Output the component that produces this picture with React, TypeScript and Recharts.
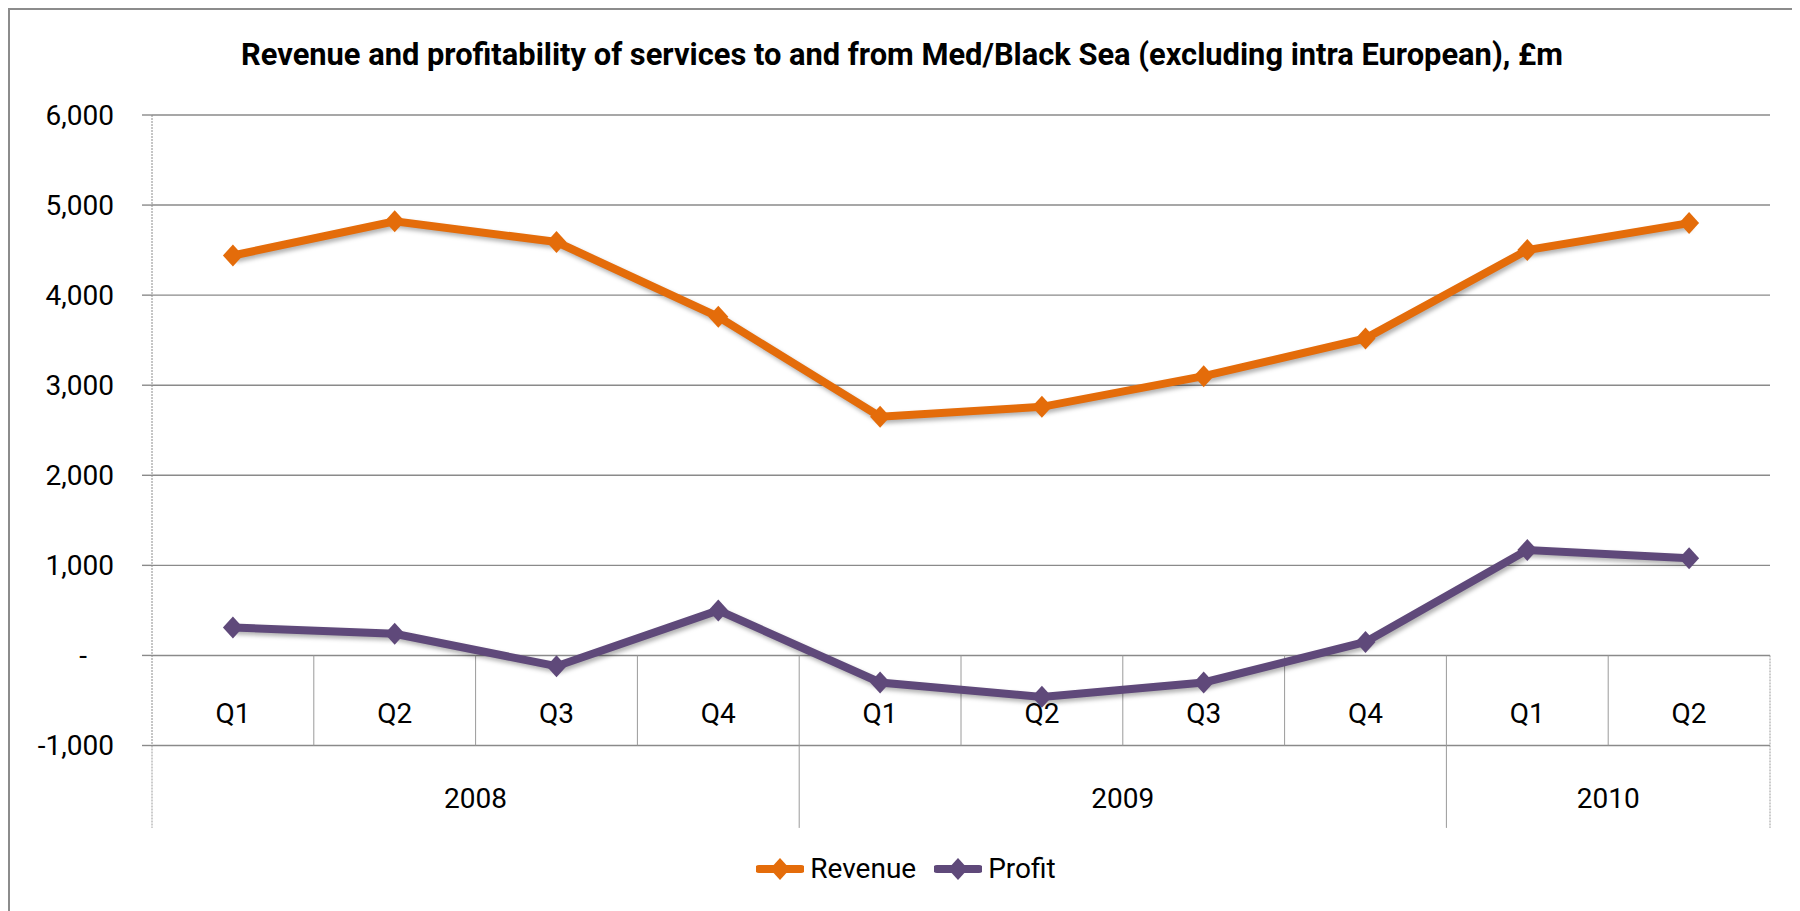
import { LineChart, Line, XAxis, YAxis, CartesianGrid, Legend, ReferenceLine } from "recharts";

const quarters = ["Q1", "Q2", "Q3", "Q4", "Q1", "Q2", "Q3", "Q4", "Q1", "Q2"];
const years = [
  { label: "2008", quarters: 4 },
  { label: "2009", quarters: 4 },
  { label: "2010", quarters: 2 },
];
const revenue = [4440, 4820, 4590, 3760, 2650, 2760, 3100, 3520, 4500, 4800];
const profit = [310, 240, -120, 500, -300, -460, -300, 150, 1170, 1080];
const yTicks = [-1000, 0, 1000, 2000, 3000, 4000, 5000, 6000];

const TITLE = "Revenue and profitability of services to and from Med/Black Sea (excluding intra European), £m";
const FONT = "Roboto, 'Open Sans', sans-serif";
const GRID = "#8a8a8a";
const ORANGE = "#E46C0A";
const PURPLE = "#5F497A";

// lower edge of the year row under the axis, in value units
const YEAR_ROW_FLOOR = -1915;

const WIDTH = 1790;
const HEIGHT = 900;

const data = quarters.map((q, i) => ({
  x: i + 0.5,
  quarter: q,
  Revenue: revenue[i],
  Profit: profit[i],
}));

const quarterTicks = data.map((d) => d.x);

// year group boundaries and label centres
const yearBounds: number[] = [];
const yearCenters: { x: number; label: string }[] = [];
let acc = 0;
years.forEach((y) => {
  yearCenters.push({ x: acc + y.quarters / 2, label: y.label });
  acc += y.quarters;
  yearBounds.push(acc);
});
const innerBounds = yearBounds.slice(0, -1);

const quarterDividers: number[] = [];
for (let i = 1; i < quarters.length; i++) {
  if (!innerBounds.includes(i)) quarterDividers.push(i);
}

const series = [
  { key: "Revenue", color: ORANGE },
  { key: "Profit", color: PURPLE },
];

function Diamond(props: any) {
  const { cx, cy, fill } = props;
  if (cx == null || cy == null) return null;
  return <path d={`M${cx},${cy - 11} L${cx + 10},${cy} L${cx},${cy + 11} L${cx - 10},${cy} Z`} fill={fill} />;
}

function YTick(props: any) {
  const { x, y, payload } = props;
  const v = payload.value as number;
  return (
    <text
      x={x}
      y={y}
      dx={v === 0 ? -27 : 0}
      dy="0.355em"
      textAnchor="end"
      fontFamily={FONT}
      fontSize={28}
      fill="#000"
    >
      {v === 0 ? "-" : v.toLocaleString("en-US")}
    </text>
  );
}

function QuarterTick(props: any) {
  const { x, y, payload } = props;
  const label = quarters[Math.floor(payload.value)];
  return (
    <text x={x} y={y - 32} dy="0.355em" textAnchor="middle" fontFamily={FONT} fontSize={28} fill="#000">
      {label}
    </text>
  );
}

function YearTick(props: any) {
  const { x, y, payload } = props;
  const found = yearCenters.find((c) => c.x === payload.value);
  return (
    <text x={x} y={y + 52} dy="0.355em" textAnchor="middle" fontFamily={FONT} fontSize={28} fill="#000">
      {found ? found.label : ""}
    </text>
  );
}

function LegendContent() {
  return (
    <div
      style={{
        display: "flex",
        justifyContent: "center",
        alignItems: "center",
        height: 40,
        gap: 18,
        paddingLeft: 34,
      }}
    >
      {series.map((s) => (
        <div key={s.key} style={{ display: "flex", alignItems: "center", gap: 6 }}>
          <svg width={48} height={24}>
            <line x1={3} y1={12} x2={45} y2={12} stroke={s.color} strokeWidth={8} strokeLinecap="round" />
            <path d="M24,1 L34,12 L24,23 L14,12 Z" fill={s.color} />
          </svg>
          <span style={{ fontFamily: FONT, fontSize: 28, color: "#000", lineHeight: "40px" }}>{s.key}</span>
        </div>
      ))}
    </div>
  );
}

export default function App() {
  return (
    <div
      style={{
        position: "relative",
        width: WIDTH,
        height: 910,
        border: "2px solid #8c8c8c",
        boxSizing: "border-box",
        background: "#fff",
      }}
    >
      <style>{`.series-shadow { filter: drop-shadow(2px 3px 2px rgba(0,0,0,0.3)); }`}</style>
      <div style={{ position: "absolute", left: -2, top: -2 }}>
        <LineChart width={WIDTH} height={HEIGHT} data={data} margin={{ top: 107, right: 28, left: 0, bottom: 19 }}>
          <CartesianGrid vertical={false} stroke={GRID} strokeWidth={1.4} xAxisId="q" />
          <XAxis
            xAxisId="q"
            dataKey="x"
            type="number"
            domain={[0, quarters.length]}
            ticks={quarterTicks}
            interval={0}
            tick={(p: any) => <QuarterTick {...p} />}
            tickLine={false}
            axisLine={false}
            tickSize={0}
            tickMargin={0}
            height={1}
          />
          <XAxis
            xAxisId="yr"
            dataKey="x"
            type="number"
            domain={[0, quarters.length]}
            ticks={yearCenters.map((c) => c.x)}
            interval={0}
            tick={(p: any) => <YearTick {...p} />}
            tickLine={false}
            axisLine={false}
            tickSize={0}
            tickMargin={0}
            height={102.5}
          />
          <YAxis
            domain={[-1000, 6000]}
            ticks={yTicks}
            interval={0}
            width={144}
            tickSize={10}
            tickMargin={28}
            tickLine={{ stroke: GRID, strokeWidth: 1.4 }}
            axisLine={{ stroke: "#8c8c8c", strokeDasharray: "2 1" }}
            tick={(p: any) => <YTick {...p} />}
          />
          {quarterDividers.map((b) => (
            <ReferenceLine
              key={`q${b}`}
              xAxisId="q"
              segment={[{ x: b, y: 0 }, { x: b, y: -1000 }]}
              stroke="#9a9a9a"
              strokeWidth={1}
              ifOverflow="visible"
            />
          ))}
          {[0, ...innerBounds, quarters.length].map((b) => (
            <ReferenceLine
              key={`y${b}`}
              xAxisId="q"
              segment={[{ x: b, y: b === 0 ? -1000 : 0 }, { x: b, y: YEAR_ROW_FLOOR }]}
              stroke="#9a9a9a"
              strokeWidth={1}
              strokeDasharray={b === 0 || b === quarters.length ? "2 1" : undefined}
              ifOverflow="visible"
            />
          ))}
          {series.map((s) => (
            <Line
              key={s.key}
              xAxisId="q"
              className="series-shadow"
              type="linear"
              dataKey={s.key}
              stroke={s.color}
              strokeWidth={8}
              dot={(p: any) => <Diamond key={`${s.key}-${p.index}`} {...p} fill={s.color} />}
              activeDot={false}
              isAnimationActive={false}
            />
          ))}
          <Legend verticalAlign="bottom" content={() => <LegendContent />} />
        </LineChart>
      </div>
      <svg
        width={WIDTH}
        height={100}
        style={{ position: "absolute", left: -2, top: -2, pointerEvents: "none" }}
      >
        <text
          x={894}
          y={56.5}
          textAnchor="middle"
          fontFamily={FONT}
          fontWeight="bold"
          fontSize={32}
          textLength={1322}
          lengthAdjust="spacingAndGlyphs"
          fill="#000"
        >
          {TITLE}
        </text>
      </svg>
    </div>
  );
}
